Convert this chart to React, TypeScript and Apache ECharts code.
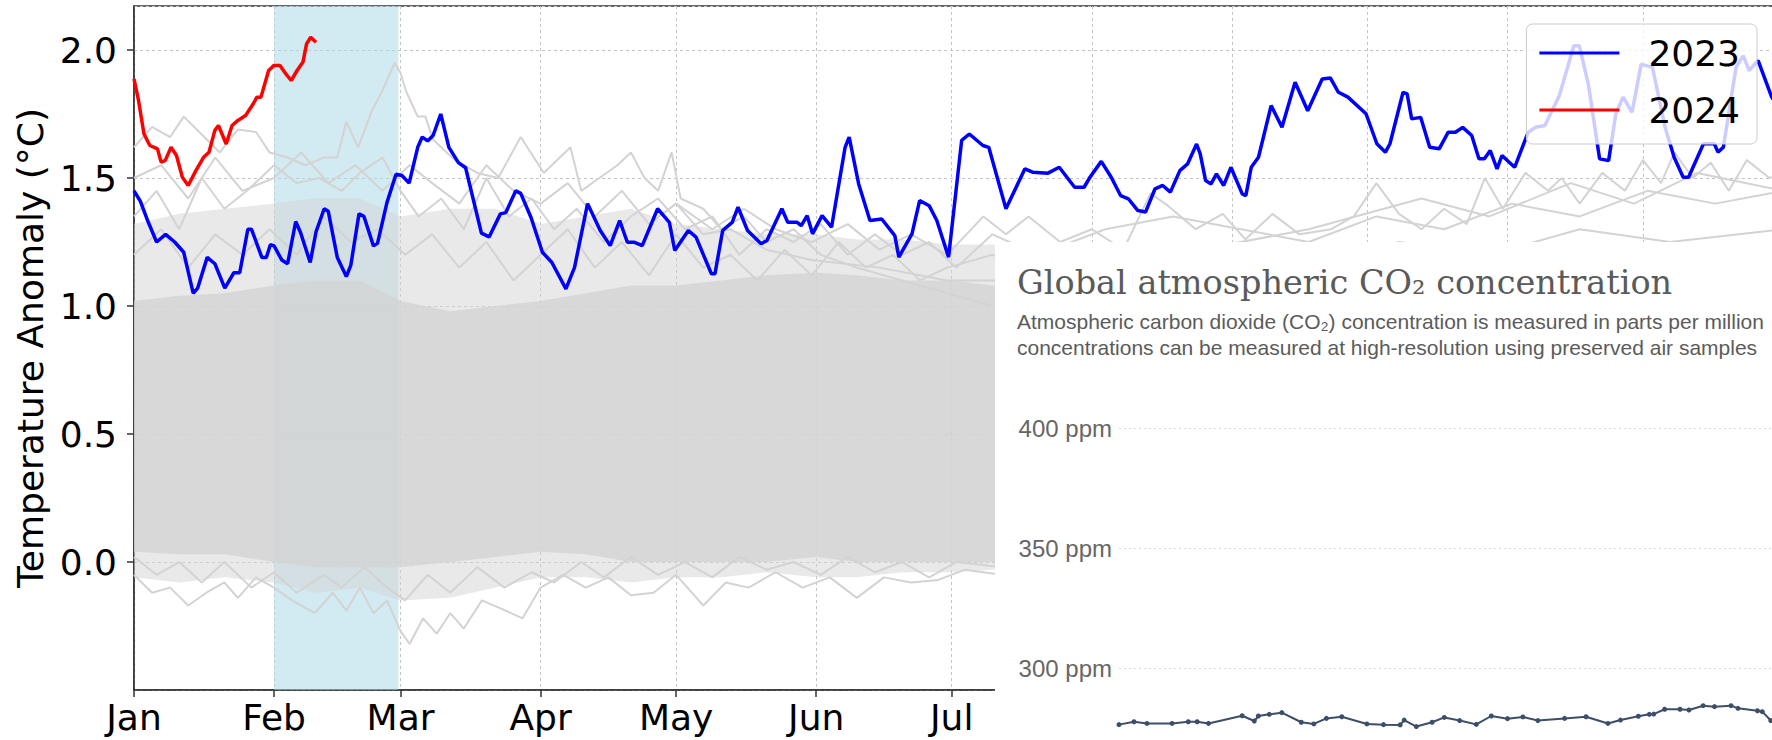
import React, { useEffect, useRef } from 'react';
import * as echarts from 'echarts';

// ---------- main chart data ----------
const monthLabels = ['Jan', 'Feb', 'Mar', 'Apr', 'May', 'Jun', 'Jul', 'Aug', 'Sep', 'Oct', 'Nov', 'Dec'];
const monthStartDays = [0, 31, 59, 90, 120, 151, 181, 212, 243, 273, 304, 334];
const yTickLabels = [0.0, 0.5, 1.0, 1.5, 2.0];

const series2023: [number, number][] = [
  [0, 1.45], [1.4, 1.41], [3.1, 1.33], [5, 1.25], [7, 1.28], [9, 1.25], [11, 1.21], [13.1, 1.05], [14.1, 1.07],
  [16.2, 1.19], [17.9, 1.165], [20.1, 1.07], [22.1, 1.13], [23.4, 1.13], [25.2, 1.3], [26, 1.3], [28.3, 1.19],
  [29.3, 1.19], [30.2, 1.24], [31, 1.235], [32.7, 1.18], [34, 1.165], [35.8, 1.33], [36.9, 1.285], [39, 1.17],
  [40.3, 1.29], [42.1, 1.38], [43, 1.37], [45, 1.19], [47, 1.115], [48, 1.16], [49.8, 1.36], [50.9, 1.35],
  [53, 1.235], [53.9, 1.245], [56, 1.405], [58, 1.515], [59.3, 1.51], [60.9, 1.48], [62.8, 1.62], [63.8, 1.66],
  [65, 1.645], [66.2, 1.666], [67.9, 1.75], [69.7, 1.62], [71.8, 1.56], [73.4, 1.54], [76.9, 1.285], [78.6, 1.27],
  [81.1, 1.36], [82.3, 1.365], [84.5, 1.45], [85.6, 1.44], [87.9, 1.345], [90.4, 1.21], [92.5, 1.17], [95.6, 1.067],
  [97.5, 1.15], [100.4, 1.4], [103.2, 1.295], [105.4, 1.236], [107.5, 1.334], [109.2, 1.249], [110.8, 1.249],
  [112.5, 1.236], [115.9, 1.38], [118.5, 1.327], [119.7, 1.217], [122.7, 1.295], [124.4, 1.269], [127.8, 1.126],
  [128.6, 1.126], [130.3, 1.295], [132.4, 1.327], [133.7, 1.386], [135.8, 1.295], [138.8, 1.243], [140.1, 1.256],
  [143.4, 1.38], [144.7, 1.327], [146.8, 1.327], [147.7, 1.314], [149, 1.353], [150.2, 1.282], [152.3, 1.353],
  [154.4, 1.308], [157.4, 1.62], [158.3, 1.66], [160.4, 1.477], [162.9, 1.334], [165.5, 1.34], [168.4, 1.275],
  [169.3, 1.191], [172.2, 1.282], [173.9, 1.412], [176, 1.392], [177.7, 1.334], [180.3, 1.191], [183.2, 1.647],
  [184.9, 1.672], [187.9, 1.627], [189.2, 1.62], [193, 1.38], [197.2, 1.536], [198.9, 1.523], [202.3, 1.519],
  [204.8, 1.542], [208.2, 1.464], [210.3, 1.464], [211.6, 1.503], [214.1, 1.565], [216.3, 1.503], [218.4, 1.431],
  [220.1, 1.419], [222.2, 1.373], [223.9, 1.367], [226, 1.458], [227.7, 1.471], [229.4, 1.445], [231.5, 1.529],
  [233.2, 1.555], [235.2, 1.633], [236, 1.594], [237.2, 1.49], [238.4, 1.477], [239.6, 1.516], [241.2, 1.471],
  [242.8, 1.542], [245.3, 1.438], [246.1, 1.431], [247.3, 1.542], [248.9, 1.581], [251.7, 1.783], [254.1, 1.698],
  [257, 1.874], [259.8, 1.763], [263, 1.887], [264.8, 1.891], [266.6, 1.835], [268.7, 1.816], [272.7, 1.751],
  [275.1, 1.634], [277, 1.601], [278, 1.634], [280.9, 1.835], [281.8, 1.829], [282.8, 1.731], [284.8, 1.737],
  [286.8, 1.62], [288.9, 1.614], [290.9, 1.679], [292.5, 1.679], [294.1, 1.698], [296.1, 1.666], [297.7, 1.575],
  [298.9, 1.575], [300.2, 1.607], [301.7, 1.536], [302.8, 1.588], [305.6, 1.542], [308.6, 1.679], [310.2, 1.698],
  [312.3, 1.705], [315.5, 1.822], [318.7, 2.017], [319.9, 2.017], [321.9, 1.868], [324.4, 1.575], [326.4, 1.568],
  [328, 1.751], [329.6, 1.816], [331.6, 1.757], [333.6, 1.945], [336.1, 1.932], [338.9, 1.698], [340.9, 1.581],
  [342.9, 1.503], [344.1, 1.503], [347.4, 1.634], [349.8, 1.634], [350.6, 1.601], [351.8, 1.62], [354.6, 1.932],
  [356.2, 1.978], [357.5, 1.92], [359.5, 1.959], [362.5, 1.816], [365, 1.75],
];

const series2024: [number, number][] = [
  [0, 1.887], [1, 1.803], [2.2, 1.673], [3.5, 1.627], [5.2, 1.614], [6, 1.562], [6.9, 1.568], [8.2, 1.62],
  [9.4, 1.588], [10.7, 1.503], [12, 1.471], [13.7, 1.529], [15.4, 1.581], [16.6, 1.601], [17.9, 1.686],
  [18.7, 1.705], [20.4, 1.633], [21.7, 1.705], [23, 1.725], [24.7, 1.744], [26.4, 1.79], [27.2, 1.816],
  [28.1, 1.816], [29.8, 1.92], [31, 1.94], [32.3, 1.94], [33.6, 1.907], [34.8, 1.881], [36.1, 1.92],
  [37.4, 1.953], [38.2, 2.024], [39.1, 2.05], [40.3, 2.03],
];

// envelope of the dense bundle of earlier years
const bandDays = [0, 10, 20, 31, 40, 50, 59, 70, 80, 90, 100, 110, 120, 130, 140, 151, 160, 170, 181, 190, 200, 220, 240, 260, 280, 300, 320, 340, 365];
const outerHigh = [1.32, 1.36, 1.38, 1.4, 1.42, 1.42, 1.35, 1.38, 1.38, 1.32, 1.35, 1.38, 1.32, 1.3, 1.28, 1.28, 1.26, 1.26, 1.24, 1.24, 1.22, 1.22, 1.22, 1.22, 1.22, 1.22, 1.22, 1.22, 1.22];
const outerLow = [-0.06, -0.08, -0.06, -0.08, -0.12, -0.1, -0.15, -0.14, -0.1, -0.06, -0.06, -0.08, -0.06, -0.06, -0.04, -0.06, -0.06, -0.04, -0.04, -0.03, -0.02, 0, 0, 0, 0, 0, 0, 0, 0];
const coreHigh = [1.02, 1.04, 1.05, 1.08, 1.1, 1.1, 1.02, 0.98, 1.0, 1.02, 1.05, 1.08, 1.08, 1.1, 1.12, 1.13, 1.12, 1.1, 1.1, 1.08, 1.06, 1.06, 1.08, 1.1, 1.1, 1.12, 1.14, 1.15, 1.15];
const coreLow = [0.04, 0.03, 0.03, 0.0, -0.02, -0.02, -0.02, 0.0, 0.02, 0.04, 0.03, 0.0, 0.0, 0.0, 0.0, 0.02, 0.0, 0.0, 0.0, 0.0, 0.0, 0.0, 0.0, 0.0, 0.0, 0.0, 0.0, 0.0, 0.0];

// individual earlier-year lines visible at the edges of the bundle
const greyUpper1: [number, number][] = [
  [0, 1.62], [4, 1.7], [8, 1.66], [11, 1.74], [15, 1.67], [19, 1.6], [23, 1.69], [27, 1.68], [30, 1.6], [34, 1.58],
  [38, 1.55], [42, 1.58], [45, 1.58], [47, 1.72], [49.6, 1.62], [52.6, 1.76], [55.2, 1.85], [57.7, 1.95], [59, 1.91],
  [60.2, 1.84], [62.8, 1.74], [64.5, 1.74], [66.2, 1.65], [68, 1.62], [71, 1.57], [76, 1.52], [80.6, 1.5], [85.6, 1.66],
  [90.7, 1.52], [96.6, 1.62], [99, 1.45], [103, 1.5], [107, 1.55], [110, 1.6], [113, 1.5], [116, 1.45], [119, 1.6],
  [121, 1.42], [126, 1.38], [130, 1.3], [135, 1.35], [140, 1.25], [146, 1.3], [152, 1.2], [160, 1.15], [170, 1.1],
  [180, 1.05], [190, 1.0],
];
const greyUpper2: [number, number][] = [
  [120, 1.4], [128, 1.3], [135, 1.38], [142, 1.3], [150, 1.25], [158, 1.32], [165, 1.22], [172, 1.28], [180, 1.2],
  [188, 1.35], [193, 1.28], [198, 1.35], [205, 1.25], [212, 1.3], [219, 1.22], [225, 1.44], [229, 1.39], [235, 1.3],
  [241, 1.36], [246, 1.26], [252, 1.36], [258, 1.28], [265, 1.3], [270, 1.35], [275, 1.48], [280, 1.36], [285, 1.3],
  [290, 1.38], [295, 1.32], [299, 1.5], [303, 1.38], [308, 1.52], [313, 1.45], [316, 1.5], [320, 1.4], [325, 1.52],
  [330, 1.45], [334, 1.57], [338, 1.48], [341, 1.6], [345, 1.5], [349, 1.56], [353, 1.45], [357, 1.57], [362, 1.5],
  [365, 1.52],
];
const greyUpper3: [number, number][] = [
  [0, 1.35], [5, 1.45], [10, 1.3], [15, 1.5], [20, 1.38], [25, 1.45], [31, 1.55], [36, 1.48], [41, 1.5], [46, 1.45],
  [50, 1.52], [55, 1.58], [59, 1.45], [63, 1.35], [68, 1.42], [73, 1.3], [78, 1.5], [83, 1.35], [88, 1.42], [93, 1.3],
  [98, 1.38], [104, 1.25], [110, 1.35], [116, 1.42], [122, 1.3], [128, 1.35], [134, 1.2], [140, 1.3], [146, 1.25],
  [152, 1.32], [158, 1.2], [164, 1.28], [170, 1.2], [176, 1.25], [182, 1.15], [190, 1.28], [200, 1.2], [215, 1.3],
  [230, 1.35], [245, 1.3], [260, 1.25], [275, 1.35], [290, 1.3], [305, 1.4], [320, 1.35], [335, 1.45], [350, 1.4],
  [365, 1.45],
];
const greyUpper4: [number, number][] = [
  [0, 1.2], [6, 1.3], [12, 1.15], [18, 1.28], [24, 1.2], [30, 1.3], [36, 1.2], [42, 1.35], [48, 1.25], [54, 1.3],
  [60, 1.2], [66, 1.28], [72, 1.15], [78, 1.25], [84, 1.1], [90, 1.2], [96, 1.3], [102, 1.15], [108, 1.25], [114, 1.12],
  [120, 1.28], [126, 1.15], [132, 1.2], [138, 1.1], [144, 1.22], [150, 1.12], [156, 1.25], [162, 1.15], [168, 1.2],
  [174, 1.1], [180, 1.15], [190, 1.2], [205, 1.1], [220, 1.15], [240, 1.2], [260, 1.15], [280, 1.25], [300, 1.2],
  [320, 1.3], [340, 1.25], [365, 1.3],
];
const greyUpper5: [number, number][] = [
  [0, 1.5], [6, 1.55], [12, 1.42], [18, 1.58], [24, 1.45], [31, 1.5], [37, 1.6], [43, 1.48], [49, 1.55], [55, 1.45],
  [61, 1.55], [66, 1.48], [72, 1.4], [78, 1.55], [84, 1.45], [90, 1.4], [96, 1.48], [102, 1.35], [108, 1.45],
  [114, 1.32], [120, 1.4], [126, 1.28], [132, 1.3], [140, 1.22], [150, 1.18], [165, 1.15], [180, 1.1], [200, 1.1],
  [230, 1.2], [260, 1.3], [285, 1.42], [300, 1.35], [318, 1.48], [332, 1.4], [346, 1.52], [365, 1.45],
];
const greyLower1: [number, number][] = [
  [0, -0.05], [4, -0.12], [8, -0.1], [12, -0.17], [16, -0.12], [20, -0.08], [23, -0.14], [27, -0.06], [31, -0.1],
  [35, -0.15], [40, -0.2], [44, -0.12], [47, -0.19], [50, -0.1], [53, -0.2], [56, -0.15], [59, -0.27], [61, -0.32],
  [64, -0.22], [67, -0.28], [70, -0.2], [73, -0.26], [77, -0.15], [81, -0.18], [86, -0.22], [90, -0.1], [95, -0.05],
  [100, -0.1], [105, -0.06], [110, -0.13], [115, -0.12], [120, -0.05], [126, -0.17], [131, -0.08], [136, -0.1],
  [142, -0.04], [148, -0.1], [154, -0.06], [160, -0.14], [166, -0.06], [172, -0.08], [178, -0.07], [184, -0.03],
  [192, -0.05],
];
const greyLower2: [number, number][] = [
  [0, 0.02], [5, -0.05], [10, 0.0], [15, -0.08], [20, 0.0], [26, -0.1], [31, -0.04], [36, -0.12], [42, -0.05],
  [46, -0.1], [51, -0.02], [56, -0.1], [60, -0.15], [65, -0.05], [70, -0.12], [76, -0.02], [82, -0.1], [88, -0.04],
  [93, -0.08], [99, 0.0], [104, -0.06], [110, 0.02], [116, -0.05], [122, 0.0], [128, -0.06], [134, 0.02], [140, -0.03],
  [146, 0.0], [152, -0.05], [158, 0.02], [164, -0.04], [170, 0.0], [176, -0.06], [182, 0.0], [192, -0.02],
];
const greyLines = [greyUpper1, greyUpper2, greyUpper3, greyUpper4, greyUpper5, greyLower1, greyLower2];

// ---------- CO2 panel data ----------
const co2Years = [0, 37, 69, 131, 171, 193, 221, 304, 334, 344, 371, 402, 450, 481, 512, 550, 612, 653, 694, 704, 734, 773, 803, 841, 882, 919, 959, 997, 1034, 1100, 1153, 1207, 1238, 1282, 1309, 1320, 1347, 1385, 1407, 1442, 1470, 1511, 1528, 1576, 1588, 1609];
const co2Ppm = [276.4, 277.6, 276.9, 276.9, 277.6, 277.6, 276.9, 280.1, 277.9, 280.0, 280.7, 281.4, 277.4, 276.7, 279.0, 279.7, 276.7, 276.4, 276.3, 278.3, 275.6, 277.4, 279.4, 278.1, 276.5, 280.0, 278.9, 279.6, 278.1, 279.0, 279.7, 276.9, 278.3, 279.9, 280.7, 280.8, 282.8, 282.8, 282.5, 284.3, 283.9, 284.3, 283.2, 282.2, 281.8, 278.1];
const co2Title = 'Global atmospheric CO₂ concentration';
const co2SubLine1 = 'Atmospheric carbon dioxide (CO₂) concentration is measured in parts per million';
const co2SubLine2 = 'concentrations can be measured at high-resolution using preserved air samples';

const FONT = 'DejaVu Sans';
const SPINE = '#333333';
const GREY = '#d3d3d3';
const MAIN_WIDTH = 1783; // plot runs past the right edge of the picture

function zip(xs: number[], ys: number[]): [number, number][] {
  return xs.map((x, i) => [x, ys[i]]);
}

function bandSeries(name: string, low: number[], high: number[], opacity: number): any {
  return {
    type: 'custom',
    name,
    silent: true,
    z: 2,
    data: bandDays.map((d, i) => [d, low[i], high[i]]),
    encode: { x: 0, y: [1, 2] },
    renderItem: (params: any, api: any) => {
      if (params.dataIndex !== 0) return null;
      const top = bandDays.map((d, i) => api.coord([d, high[i]]));
      const bottom = bandDays.map((d, i) => api.coord([d, low[i]])).reverse();
      return {
        type: 'polygon',
        shape: { points: top.concat(bottom) },
        style: { fill: GREY, opacity },
        silent: true,
      };
    },
  };
}

function buildMainOption(): any {
  const dayCategories = Array.from({ length: 366 }, (_, i) => String(i));
  const isMonthStart = (i: number) => monthStartDays.includes(i);

  return {
    animation: false,
    grid: { left: 134, right: 0, top: 6, bottom: 50, show: true, borderColor: SPINE, borderWidth: 1.5 },
    legend: {
      data: ['2023', '2024'],
      orient: 'vertical',
      right: MAIN_WIDTH - 1757,
      top: 24,
      icon: 'rect',
      itemWidth: 80,
      itemHeight: 3,
      itemGap: 17,
      padding: [9, 17, 14, 13],
      backgroundColor: 'rgba(255,255,255,0.8)',
      borderColor: '#cccccc',
      borderWidth: 1,
      borderRadius: 6,
      selectedMode: false,
      textStyle: { fontSize: 36, fontFamily: FONT, color: '#000', lineHeight: 40, padding: [0, 0, 0, 24] },
      z: 10,
    },
    xAxis: [
      { type: 'value', min: 0, max: 365, show: false },
      {
        type: 'category',
        data: dayCategories,
        boundaryGap: false,
        position: 'bottom',
        axisLine: { show: true, lineStyle: { color: SPINE, width: 1.5 } },
        axisTick: { show: true, interval: (i: number) => isMonthStart(i), length: 7, lineStyle: { color: SPINE, width: 1.5 } },
        axisLabel: {
          interval: (i: number) => isMonthStart(i),
          formatter: (v: string) => monthLabels[monthStartDays.indexOf(Number(v))] ?? '',
          fontSize: 36,
          fontFamily: FONT,
          color: '#000',
          margin: 9,
        },
        splitLine: { show: true, interval: (i: number) => isMonthStart(i), lineStyle: { color: '#c4c4c4', type: [3, 3], width: 1 } },
      },
    ],
    yAxis: {
      type: 'value',
      min: -0.5,
      max: 2.172,
      interval: 0.5,
      name: 'Temperature Anomaly (°C)',
      nameLocation: 'middle',
      nameGap: 80,
      nameTextStyle: { fontSize: 36, fontFamily: FONT, color: '#000' },
      axisLine: { show: true, lineStyle: { color: SPINE, width: 1.5 } },
      axisTick: { show: true, length: 7, lineStyle: { color: SPINE, width: 1.5 } },
      axisLabel: {
        showMinLabel: false,
        showMaxLabel: false,
        formatter: (v: number) => (yTickLabels.some((t) => Math.abs(t - v) < 1e-6) ? v.toFixed(1) : ''),
        fontSize: 36,
        fontFamily: FONT,
        color: '#000',
        margin: 17,
      },
      splitLine: { show: true, lineStyle: { color: '#c4c4c4', type: [3, 3], width: 1 } },
    },
    series: [
      {
        type: 'line',
        name: 'shade',
        data: zip(bandDays, coreLow),
        symbol: 'none',
        silent: true,
        lineStyle: { opacity: 0 },
        z: 1,
        markArea: {
          silent: true,
          itemStyle: { color: 'rgba(173,216,230,0.55)' },
          data: [[{ xAxis: 31 }, { xAxis: 58.5 }]],
        },
      },
      bandSeries('outerBand', outerLow, outerHigh, 0.5),
      bandSeries('coreBand', coreLow, coreHigh, 0.8),
      ...greyLines.map((d, i) => ({
        type: 'line',
        name: 'grey' + i,
        data: d,
        symbol: 'none',
        silent: true,
        color: GREY,
        lineStyle: { color: GREY, width: 2 },
        z: 3,
      })),
      {
        type: 'line',
        name: '2023',
        data: series2023,
        symbol: 'none',
        color: '#0000ff',
        lineStyle: { color: '#0000ff', width: 3.5 },
        z: 5,
      },
      {
        type: 'line',
        name: '2024',
        data: series2024,
        symbol: 'none',
        color: '#ff0000',
        lineStyle: { color: '#ff0000', width: 3.5 },
        z: 5,
      },
    ],
  };
}

function buildPanelOption(): any {
  return {
    animation: false,
    title: {
      text: co2Title,
      subtext: co2SubLine1 + '\n' + co2SubLine2,
      left: 22,
      top: 20,
      padding: 0,
      itemGap: 6,
      textStyle: { fontFamily: 'DejaVu Serif', fontSize: 33.5, fontWeight: 'normal', color: '#5a5a5a', lineHeight: 40 },
      subtextStyle: { fontFamily: 'Liberation Sans', fontSize: 21, color: '#5b5b5b', lineHeight: 26 },
    },
    grid: { left: 124, right: 0, top: 186, bottom: 0 },
    xAxis: { type: 'value', min: 0, max: 1612, show: false },
    yAxis: {
      type: 'value',
      min: 250,
      max: 400,
      interval: 50,
      axisLine: { show: false },
      axisTick: { show: false },
      axisLabel: {
        formatter: '{value} ppm',
        showMinLabel: false,
        fontFamily: 'Liberation Sans',
        fontSize: 24,
        color: '#666666',
        margin: 7,
      },
      splitLine: { show: true, lineStyle: { color: '#d9d9d9', type: [2, 3], width: 1 } },
    },
    series: [
      {
        type: 'line',
        data: zip(co2Years, co2Ppm),
        symbol: 'circle',
        symbolSize: 5,
        color: '#3d4e69',
        lineStyle: { color: '#3d4e69', width: 2 },
        itemStyle: { color: '#3d4e69' },
      },
    ],
  };
}

export default function App() {
  const mainRef = useRef<HTMLDivElement>(null);
  const panelRef = useRef<HTMLDivElement>(null);

  useEffect(() => {
    const main = echarts.init(mainRef.current as HTMLDivElement, null, { renderer: 'svg' });
    main.setOption(buildMainOption());
    const panel = echarts.init(panelRef.current as HTMLDivElement, null, { renderer: 'svg' });
    panel.setOption(buildPanelOption());
    return () => {
      main.dispose();
      panel.dispose();
    };
  }, []);

  return (
    <div style={{ position: 'fixed', left: 0, top: 0, width: 1772, height: 740, background: '#ffffff', overflow: 'hidden' }}>
      <div ref={mainRef} style={{ position: 'absolute', left: 0, top: 0, width: MAIN_WIDTH, height: 740 }} />
      <div style={{ position: 'absolute', left: 995, top: 242, width: 777, height: 498, background: '#ffffff', overflow: 'hidden' }}>
        <div ref={panelRef} style={{ position: 'absolute', left: 0, top: 0, width: 777, height: 546 }} />
      </div>
    </div>
  );
}
